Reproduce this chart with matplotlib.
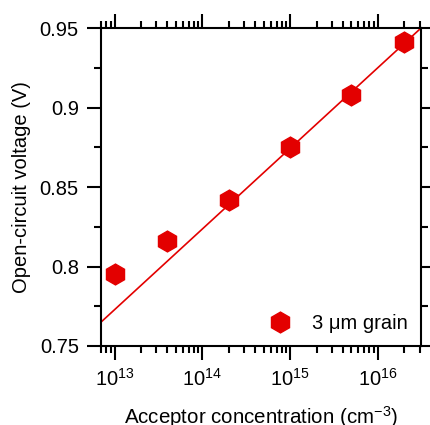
import matplotlib
matplotlib.use("Agg")
import matplotlib.pyplot as plt
from matplotlib.ticker import FixedLocator, NullFormatter

plt.rcParams['font.family'] = ['Liberation Sans', 'DejaVu Sans']
plt.rcParams['mathtext.fontset'] = 'custom'
plt.rcParams['mathtext.rm'] = 'Liberation Sans'
plt.rcParams['mathtext.it'] = 'Liberation Sans:italic'

# Data
acceptor_conc = [1e13, 4e13, 2e14, 1e15, 5e15, 2e16]
voc = [0.795, 0.816, 0.842, 0.875, 0.908, 0.941]
fit_conc = [7e12, 3.1e16]
fit_voc = [0.765, 0.950]
y_ticks = [0.75, 0.8, 0.85, 0.9, 0.95]
y_ticklabels = ['0.75', '0.8', '0.85', '0.9', '0.95']
y_minor = [0.775, 0.825, 0.875, 0.925]
x_ticks = [1e13, 1e14, 1e15, 1e16]
x_ticklabels = [r'$\mathregular{10^{13}}$', r'$\mathregular{10^{14}}$',
                r'$\mathregular{10^{15}}$', r'$\mathregular{10^{16}}$']
decades = [1e12, 1e13, 1e14, 1e15, 1e16]
subs = [2, 3, 4, 5, 6, 7, 8, 9]

red = '#e30000'

fig = plt.figure(figsize=(4.31, 4.25), dpi=100)
ax = fig.add_axes([0.2343, 0.1859, 0.7425, 0.7481])

ax.plot(fit_conc, fit_voc, color=red, lw=1.2, zorder=2)
ax.plot(acceptor_conc, voc, linestyle='none', marker='h', ms=15,
        color=red, mec=red, label=r'3 μm grain', zorder=3)

ax.set_xscale('log')
ax.set_xlim(7e12, 3.1e16)
ax.set_ylim(0.75, 0.95)

x_minor = [d * s for d in decades for s in subs]
x_minor = [v for v in x_minor if 7e12 <= v <= 3.1e16]
ax.set_xticks(x_ticks)
ax.set_xticklabels(x_ticklabels)
ax.set_xticks(x_minor, minor=True)
ax.xaxis.set_minor_formatter(NullFormatter())
ax.xaxis.remove_overlapping_locs = False

ax.set_yticks(y_ticks)
ax.set_yticklabels(y_ticklabels)
ax.set_yticks(y_minor, minor=True)

for s in ax.spines.values():
    s.set_linewidth(1.5)

ax.tick_params(which='both', direction='out', top=True, right=True,
               width=1.5, labelsize=14.5, colors='black')
ax.tick_params(which='major', length=10, pad=6)
ax.tick_params(which='minor', length=5)

ax.set_xlabel('Acceptor concentration (cm$^{-3}$)', fontsize=14.8, labelpad=10)
ax.set_ylabel('Open-circuit voltage (V)', fontsize=14.5, labelpad=6)

leg = ax.legend(loc='lower right', frameon=False, fontsize=14.5,
                handletextpad=0.6, borderaxespad=0.4, markerscale=1.0,
                bbox_to_anchor=(1.01, -0.01))

fig.savefig('out.png', dpi=100)
